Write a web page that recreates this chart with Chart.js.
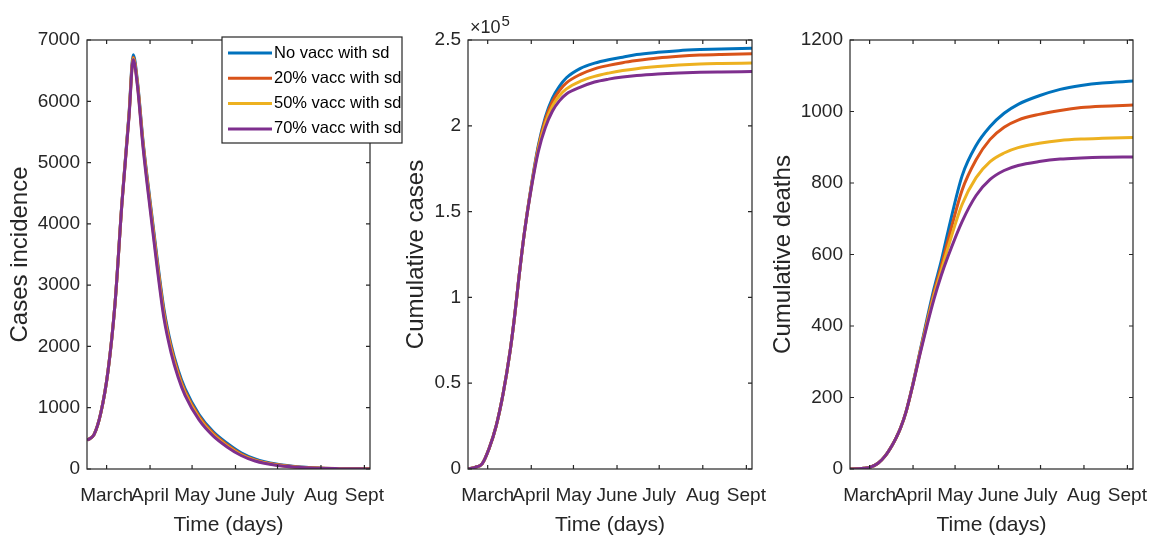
<!DOCTYPE html>
<html lang="en">
<head>
<meta charset="UTF-8">
<title>Vaccination scenarios with social distancing</title>
<script src="https://cdn.jsdelivr.net/npm/chart.js"></script>
<style>
  body { margin: 0; background: #fff; }
  .wrap { position: relative; width: 1150px; height: 538px; overflow: hidden; }
  canvas { position: absolute; top: 0; }
</style>
</head>
<body>
<div class="wrap">
  <canvas id="incidenceChart" width="410" height="538" style="left:0px"></canvas>
  <canvas id="casesChart" width="380" height="538" style="left:395px"></canvas>
  <canvas id="deathsChart" width="390" height="538" style="left:760px"></canvas>
</div>
<script>
// time axis (days) and month ticks
const days = [0, 5, 10, 15, 20, 25, 30, 33, 36, 40, 45, 50, 55, 60, 65, 70, 80, 90, 100, 110, 120, 135, 150, 165, 180, 202];
const monthTicks = [14, 45, 75, 106, 136, 167, 198];
const monthLabels = ['March', 'April', 'May', 'June', 'July', 'Aug', 'Sept'];

const seriesNames = ['No vacc with sd', '20% vacc with sd', '50% vacc with sd', '70% vacc with sd'];
const seriesColors = ['#0072BD', '#D95319', '#EDB120', '#7E2F8E'];

// cases incidence
const incNoVacc = [470, 560, 930, 1600, 2700, 4370, 5800, 6760, 6330, 5350, 4380, 3450, 2600, 2030, 1620, 1310, 890, 610, 420, 265, 165, 80, 38, 18, 9, 3];
const inc20 = [470, 560, 930, 1600, 2700, 4360, 5780, 6720, 6300, 5320, 4340, 3400, 2550, 1990, 1580, 1270, 860, 585, 395, 245, 150, 72, 33, 15, 8, 3];
const inc50 = [470, 560, 930, 1600, 2700, 4355, 5770, 6700, 6280, 5290, 4300, 3360, 2500, 1950, 1540, 1240, 830, 560, 375, 232, 140, 66, 30, 14, 7, 2];
const inc70 = [470, 560, 930, 1600, 2700, 4350, 5750, 6680, 6250, 5250, 4250, 3300, 2450, 1900, 1500, 1200, 800, 540, 360, 220, 130, 60, 28, 12, 6, 2];

// cumulative cases
const cumNoVacc = [0, 1000, 3000, 12000, 25000, 44000, 69000, 88000, 110000, 137000, 165000, 188500, 205000, 216000, 223000, 228000, 233500, 236500, 238500, 240000, 241500, 242800, 243800, 244400, 244800, 245200];
const cum20 = [0, 1000, 3000, 12000, 25000, 44000, 69000, 88000, 110000, 137000, 164500, 187500, 203500, 214000, 220500, 225000, 230000, 233200, 235200, 236800, 238000, 239500, 240500, 241200, 241600, 242000];
const cum50 = [0, 1000, 3000, 12000, 25000, 44000, 69000, 88000, 110000, 137000, 164000, 186500, 201500, 211500, 217500, 221500, 226000, 228800, 230700, 232200, 233300, 234500, 235400, 236000, 236300, 236600];
const cum70 = [0, 1000, 3000, 12000, 25000, 44000, 69000, 88000, 110000, 137000, 163500, 185000, 199000, 208500, 214500, 218500, 222500, 225500, 227200, 228400, 229300, 230200, 230800, 231200, 231400, 231600];

// cumulative deaths
const deathNoVacc = [0, 0.5, 2, 6, 16, 36, 66, 88, 114, 160, 240, 330, 420, 505, 580, 665, 820, 905, 958, 995, 1020, 1044, 1062, 1073, 1080, 1085];
const death20 = [0, 0.5, 2, 6, 16, 36, 66, 88, 114, 160, 239, 327, 413, 495, 565, 640, 780, 865, 922, 956, 976, 992, 1003, 1011, 1015, 1018];
const death50 = [0, 0.5, 2, 6, 16, 36, 66, 88, 114, 160, 238, 325, 408, 486, 553, 620, 740, 815, 860, 884, 899, 911, 919, 923, 925, 927];
const death70 = [0, 0.5, 2, 6, 16, 36, 66, 88, 114, 160, 237, 322, 402, 476, 540, 595, 692, 765, 810, 835, 849, 860, 867, 870, 872, 873];

const textColor = '#262626';
const fontFamily = 'Arial, "Liberation Sans", sans-serif';

// box with inward ticks, matlab style
const framePlugin = {
    id: 'frame',
    afterDatasetsDraw(chart) {
        const { ctx, chartArea: a, scales } = chart;
        ctx.save();
        ctx.strokeStyle = textColor;
        ctx.lineWidth = 1.2;
        ctx.strokeRect(a.left, a.top, a.right - a.left, a.bottom - a.top);
        ctx.beginPath();
        scales.x.ticks.forEach(t => {
            const px = scales.x.getPixelForValue(t.value);
            ctx.moveTo(px, a.bottom); ctx.lineTo(px, a.bottom - 4);
            ctx.moveTo(px, a.top); ctx.lineTo(px, a.top + 4);
        });
        scales.y.ticks.forEach(t => {
            const py = scales.y.getPixelForValue(t.value);
            ctx.moveTo(a.left, py); ctx.lineTo(a.left + 4, py);
            ctx.moveTo(a.right, py); ctx.lineTo(a.right - 4, py);
        });
        ctx.stroke();
        ctx.restore();
    }
};

const legendPlugin = {
    id: 'boxLegend',
    afterDraw(chart) {
        const ctx = chart.ctx;
        const x = 222, y = 37, w = 180, h = 106;
        ctx.save();
        ctx.fillStyle = '#fff';
        ctx.fillRect(x, y, w, h);
        ctx.strokeStyle = textColor;
        ctx.lineWidth = 1.2;
        ctx.strokeRect(x, y, w, h);
        ctx.font = '16.5px ' + fontFamily;
        ctx.textBaseline = 'middle';
        chart.data.datasets.forEach((ds, i) => {
            const ry = y + 16 + i * 25.3;
            ctx.strokeStyle = ds.borderColor;
            ctx.lineWidth = 3;
            ctx.beginPath();
            ctx.moveTo(x + 6, ry); ctx.lineTo(x + 50, ry);
            ctx.stroke();
            ctx.fillStyle = '#000';
            ctx.fillText(ds.label, x + 52, ry);
        });
        ctx.restore();
    }
};

const exponentPlugin = {
    id: 'exponent',
    afterDraw(chart) {
        const ctx = chart.ctx;
        const left = chart.chartArea.left;
        ctx.save();
        ctx.fillStyle = textColor;
        ctx.textBaseline = 'alphabetic';
        ctx.font = '18px ' + fontFamily;
        ctx.fillText('\u00d710', left + 2, 33);
        const w = ctx.measureText('\u00d710').width;
        ctx.font = '15px ' + fontFamily;
        ctx.fillText('5', left + 3 + w, 26);
        ctx.restore();
    }
};

function makePanel(id, series, opts) {
    const datasets = series.map((vals, i) => ({
        label: seriesNames[i],
        data: days.map((d, k) => ({ x: d, y: vals[k] })),
        borderColor: seriesColors[i],
        backgroundColor: seriesColors[i],
        borderWidth: 3,
        pointRadius: 0,
        cubicInterpolationMode: 'monotone',
        order: 4 - i
    }));
    return new Chart(document.getElementById(id), {
        type: 'line',
        data: { datasets },
        options: {
            responsive: false,
            animation: false,
            devicePixelRatio: 1,
            layout: { padding: { left: opts.padLeft, right: opts.padRight, top: 40, bottom: 0 } },
            plugins: { legend: { display: false }, tooltip: { enabled: false } },
            scales: {
                x: {
                    type: 'linear', min: 0, max: 202,
                    grid: { display: false, drawTicks: false },
                    border: { display: false },
                    afterBuildTicks: s => { s.ticks = monthTicks.map(v => ({ value: v })); },
                    afterFit: s => { s.height = 69; s.paddingLeft = 0; s.paddingRight = 0; },
                    ticks: {
                        autoSkip: false, maxRotation: 0, minRotation: 0, padding: 15,
                        color: textColor, font: { size: 19, family: fontFamily },
                        callback: (v, i) => monthLabels[i]
                    },
                    title: {
                        display: true, text: 'Time (days)', color: textColor,
                        padding: 0, font: { size: 21, family: fontFamily }
                    }
                },
                y: {
                    min: 0, max: opts.yMax,
                    grid: { display: false, drawTicks: false },
                    border: { display: false },
                    afterFit: s => { s.width = opts.yWidth; s.paddingTop = 0; s.paddingBottom = 0; },
                    ticks: {
                        stepSize: opts.yStep, padding: 7,
                        color: textColor, font: { size: 19, family: fontFamily },
                        callback: opts.yFormat || (v => v)
                    },
                    title: {
                        display: true, text: opts.yTitle, color: textColor,
                        padding: 0, font: { size: 24, family: fontFamily }
                    }
                }
            }
        },
        plugins: [framePlugin].concat(opts.extra || [])
    });
}

makePanel('incidenceChart', [incNoVacc, inc20, inc50, inc70], {
    padLeft: 6, padRight: 40, yWidth: 81, yMax: 7000, yStep: 1000,
    yTitle: 'Cases incidence', extra: [legendPlugin]
});

makePanel('casesChart', [cumNoVacc, cum20, cum50, cum70], {
    padLeft: 7, padRight: 23, yWidth: 66, yMax: 250000, yStep: 50000,
    yTitle: 'Cumulative cases', yFormat: v => String(v / 1e5), extra: [exponentPlugin]
});

makePanel('deathsChart', [deathNoVacc, death20, death50, death70], {
    padLeft: 9, padRight: 17, yWidth: 81, yMax: 1200, yStep: 200,
    yTitle: 'Cumulative deaths'
});
</script>
</body>
</html>
